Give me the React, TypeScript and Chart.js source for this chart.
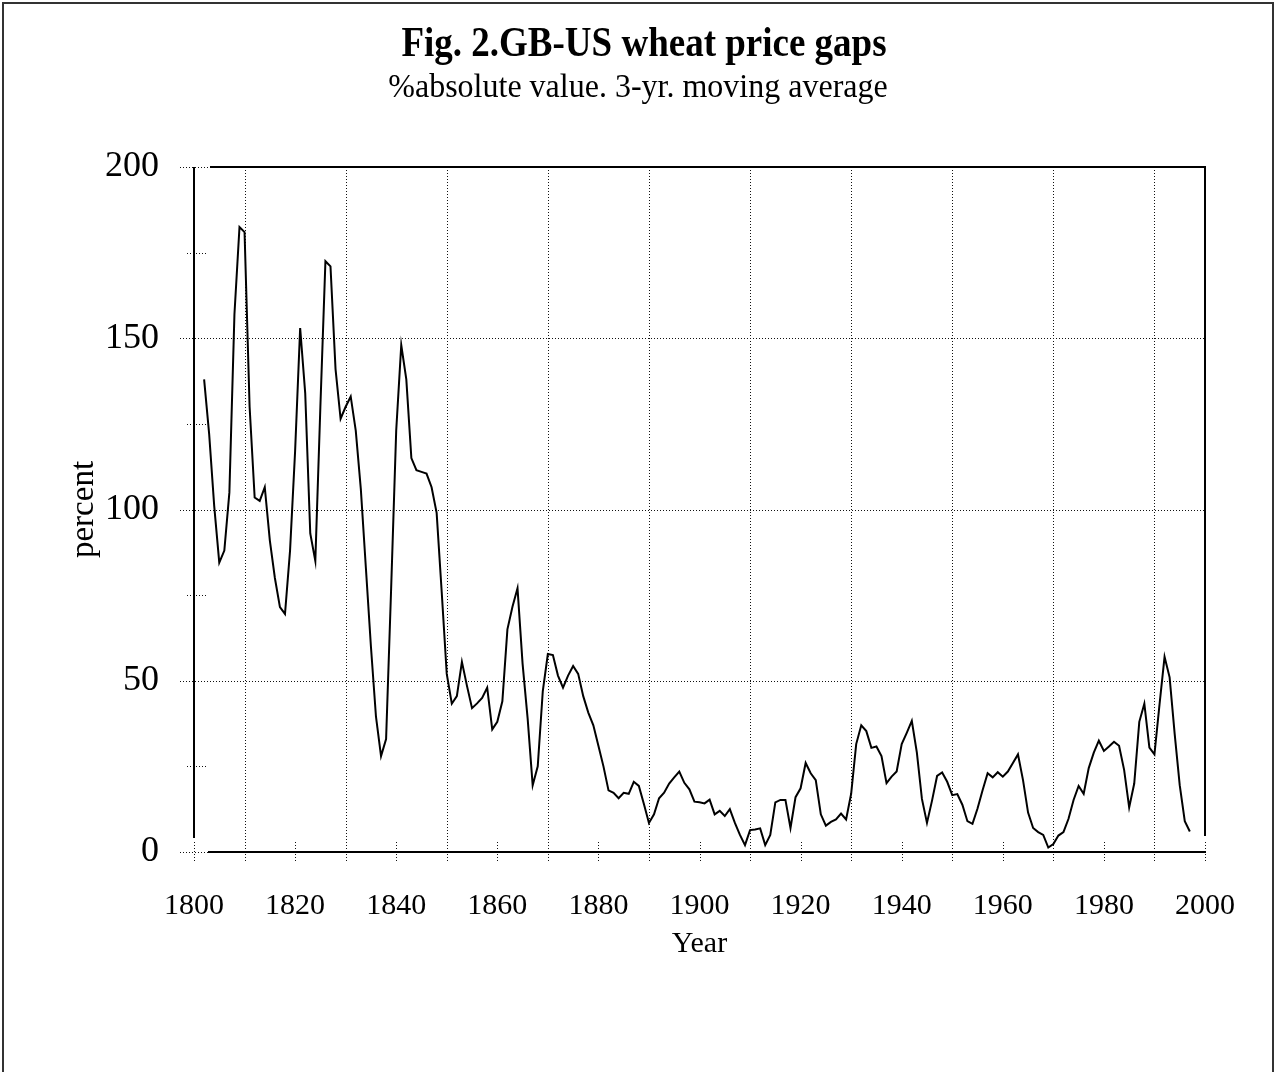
import React, { useEffect, useRef } from 'react';
import { Chart, registerables } from 'chart.js';

Chart.register(...registerables);

const TITLE = 'Fig. 2.GB-US wheat price gaps';
const SUBTITLE = '%absolute value. 3-yr. moving average';
const X_TITLE = 'Year';
const Y_TITLE = 'percent';
const FONT = "'Liberation Serif', 'Times New Roman', serif";

const X_MIN = 1800;
const X_MAX = 2000;
const Y_MIN = 0;
const Y_MAX = 200;
const X_LABEL_YEARS = [1800, 1820, 1840, 1860, 1880, 1900, 1920, 1940, 1960, 1980, 2000];
const X_GRID_YEARS = [1810, 1830, 1850, 1870, 1890, 1910, 1930, 1950, 1970, 1990];
const Y_LABEL_VALUES = [0, 50, 100, 150, 200];
const Y_GRID_VALUES = [50, 100, 150];
const Y_MINOR_VALUES = [25, 75, 125, 175];

const YEARS = [
  1802, 1803, 1804, 1805, 1806, 1807, 1808, 1809,
  1810, 1811, 1812, 1813, 1814, 1815, 1816, 1817, 1818, 1819,
  1820, 1821, 1822, 1823, 1824, 1825, 1826, 1827, 1828, 1829,
  1830, 1831, 1832, 1833, 1834, 1835, 1836, 1837, 1838, 1839,
  1840, 1841, 1842, 1843, 1844, 1845, 1846, 1847, 1848, 1849,
  1850, 1851, 1852, 1853, 1854, 1855, 1856, 1857, 1858, 1859,
  1860, 1861, 1862, 1863, 1864, 1865, 1866, 1867, 1868, 1869,
  1870, 1871, 1872, 1873, 1874, 1875, 1876, 1877, 1878, 1879,
  1880, 1881, 1882, 1883, 1884, 1885, 1886, 1887, 1888, 1889,
  1890, 1891, 1892, 1893, 1894, 1895, 1896, 1897, 1898, 1899,
  1900, 1901, 1902, 1903, 1904, 1905, 1906, 1907, 1908, 1909,
  1910, 1911, 1912, 1913, 1914, 1915, 1916, 1917, 1918, 1919,
  1920, 1921, 1922, 1923, 1924, 1925, 1926, 1927, 1928, 1929,
  1930, 1931, 1932, 1933, 1934, 1935, 1936, 1937, 1938, 1939,
  1940, 1941, 1942, 1943, 1944, 1945, 1946, 1947, 1948, 1949,
  1950, 1951, 1952, 1953, 1954, 1955, 1956, 1957, 1958, 1959,
  1960, 1961, 1962, 1963, 1964, 1965, 1966, 1967, 1968, 1969,
  1970, 1971, 1972, 1973, 1974, 1975, 1976, 1977, 1978, 1979,
  1980, 1981, 1982, 1983, 1984, 1985, 1986, 1987, 1988, 1989,
  1990, 1991, 1992, 1993, 1994, 1995, 1996, 1997,
];

const PRICE_GAP = [
  138, 122, 101, 84.5, 88, 105, 157, 182.5,
  181, 130, 103.5, 102.5, 106.5, 91, 80, 71.5, 69.5, 88,
  117, 153, 134, 93, 85, 130, 172.5, 171, 141, 126.5,
  130, 133, 123, 106, 83, 60, 39.5, 28, 33, 77,
  123, 148, 138, 115, 111.5, 111, 110.5, 106.5, 99, 76,
  52, 43.3, 45.5, 55.5, 48.5, 42, 43.4, 45, 48, 35.8,
  38, 44, 65, 71.6, 77, 55, 39, 19.5, 25, 47,
  57.8, 57.5, 51.5, 48, 51.5, 54.3, 52, 45.5, 40.7, 37,
  31, 25, 18, 17.3, 15.7, 17.3, 17, 20.5, 19.3, 14,
  8.5, 11, 15.7, 17.3, 20, 21.8, 23.5, 20.2, 18.3, 14.7,
  14.5, 14.2, 15.3, 11, 12, 10.5, 12.5, 8.5, 5, 2,
  6.4, 6.6, 6.9, 2, 5, 14.5, 15.2, 15.2, 7, 16,
  18.6, 26, 23, 21, 11, 7.7, 8.8, 9.5, 11.2, 9.5,
  17, 31.5, 37, 35.3, 30.4, 30.8, 28, 20.1, 22, 23.5,
  31.5, 34.8, 38.3, 29, 15.5, 8.5, 15, 22.2, 23.2, 20.5,
  16.6, 16.9, 13.8, 9, 8.2, 12.7, 18, 23, 21.8, 23.3,
  22, 23.5, 26, 28.5, 21, 11.5, 7, 5.8, 5, 1.3,
  2.3, 4.8, 5.8, 9.7, 15.2, 19.3, 17, 24.5, 29, 32.5,
  29.5, 30.8, 32.2, 31, 24, 13, 20, 38, 43.3, 30.5,
  28.5, 43, 57, 51, 34.5, 19.5, 9, 6,
];

const decorPlugin = {
  id: 'decor',
  beforeDraw(chart: any) {
    const { ctx, width, height } = chart;
    ctx.save();
    ctx.fillStyle = '#ffffff';
    ctx.fillRect(0, 0, width, height);
    ctx.restore();
  },
  beforeDatasetsDraw(chart: any) {
    const { ctx } = chart;
    const xs = chart.scales.x;
    const ys = chart.scales.y;
    const L = Math.round(xs.left);
    const R = Math.round(xs.right);
    const T = Math.round(ys.top);
    const B = Math.round(ys.bottom);
    const seg = (x1: number, y1: number, x2: number, y2: number) => {
      ctx.beginPath();
      ctx.moveTo(x1, y1);
      ctx.lineTo(x2, y2);
      ctx.stroke();
    };
    ctx.save();
    ctx.strokeStyle = '#111';
    ctx.lineWidth = 1;
    ctx.setLineDash([1, 2]);
    for (const v of Y_GRID_VALUES) {
      const y = Math.round(ys.getPixelForValue(v)) + 0.5;
      seg(L - 14, y, R, y);
    }
    for (const v of Y_MINOR_VALUES) {
      const y = Math.round(ys.getPixelForValue(v)) + 0.5;
      seg(L - 7, y, L + 12, y);
    }
    for (const v of [Y_MIN, Y_MAX]) {
      const y = Math.round(ys.getPixelForValue(v)) + 0.5;
      seg(L - 14, y, L + 16, y);
    }
    for (const yr of X_GRID_YEARS) {
      const x = Math.round(xs.getPixelForValue(yr)) + 0.5;
      seg(x, T, x, B + 10);
    }
    for (const yr of X_LABEL_YEARS) {
      const x = Math.round(xs.getPixelForValue(yr)) + 0.5;
      seg(x, B - 10, x, B + 10);
    }
    ctx.setLineDash([]);
    ctx.strokeStyle = '#000';
    ctx.lineWidth = 2;
    seg(L + 16, T, R + 1, T);
    seg(L, T, L, B - 14);
    seg(R, T, R, B - 16);
    seg(L + 14, B, R + 1, B);
    ctx.restore();
  },
  afterDraw(chart: any) {
    const { ctx, width, height } = chart;
    ctx.save();
    ctx.fillStyle = '#000';
    ctx.textAlign = 'center';
    ctx.textBaseline = 'alphabetic';
    ctx.save();
    ctx.translate(644, 56);
    ctx.scale(1, 1.12);
    ctx.font = `bold 37px ${FONT}`;
    ctx.fillText(TITLE, 0, 0);
    ctx.restore();
    ctx.save();
    ctx.translate(638, 97);
    ctx.scale(1, 1.04);
    ctx.font = `32px ${FONT}`;
    ctx.fillText(SUBTITLE, 0, 0);
    ctx.restore();
    ctx.strokeStyle = '#333';
    ctx.lineWidth = 2;
    ctx.beginPath();
    ctx.moveTo(3, height);
    ctx.lineTo(3, 3);
    ctx.lineTo(width - 4, 3);
    ctx.lineTo(width - 4, height);
    ctx.stroke();
    ctx.restore();
  },
};

export default function App() {
  const canvasRef = useRef<HTMLCanvasElement | null>(null);

  useEffect(() => {
    const canvas = canvasRef.current;
    if (!canvas) return;
    const points = YEARS.map((yr, i) => ({ x: yr, y: PRICE_GAP[i] }));
    const chart = new Chart(canvas, {
      type: 'line',
      data: {
        datasets: [
          {
            label: 'GB-US wheat price gap',
            data: points,
            borderColor: '#000',
            borderWidth: 2,
            pointRadius: 0,
            fill: false,
            tension: 0,
          },
        ],
      },
      options: {
        responsive: false,
        animation: false,
        devicePixelRatio: 1,
        layout: { padding: { top: 167, left: 0, right: 72, bottom: 110 } },
        plugins: {
          legend: { display: false },
          tooltip: { enabled: false },
          title: { display: false },
        },
        scales: {
          x: {
            type: 'linear',
            min: X_MIN,
            max: X_MAX,
            grid: { display: false },
            border: { display: false },
            ticks: {
              stepSize: 20,
              autoSkip: false,
              maxRotation: 0,
              padding: 28,
              color: '#000',
              font: { family: FONT, size: 30 },
              callback: (v: any) => (X_LABEL_YEARS.includes(Number(v)) ? String(v) : ''),
            },
            title: {
              display: true,
              text: X_TITLE,
              color: '#000',
              font: { family: FONT, size: 30 },
              padding: { top: 0, bottom: 0 },
            },
            afterFit: (s: any) => {
              s.height = 110;
            },
          },
          y: {
            min: Y_MIN,
            max: Y_MAX,
            grid: { display: false },
            border: { display: false },
            ticks: {
              stepSize: 50,
              padding: 27,
              color: '#000',
              font: { family: FONT, size: 36 },
              callback: (v: any) => (Y_LABEL_VALUES.includes(Number(v)) ? String(v) : ''),
            },
            title: {
              display: true,
              text: Y_TITLE,
              color: '#000',
              font: { family: FONT, size: 33 },
              padding: { top: 65, bottom: 0 },
            },
            afterFit: (s: any) => {
              s.width = 194;
            },
          },
        },
      },
      plugins: [decorPlugin],
    });
    return () => chart.destroy();
  }, []);

  return (
    <div style={{ position: 'absolute', left: 0, top: 0, width: 1277, height: 1072, background: '#fff' }}>
      <canvas ref={canvasRef} width={1277} height={1072} style={{ display: 'block' }} />
    </div>
  );
}
